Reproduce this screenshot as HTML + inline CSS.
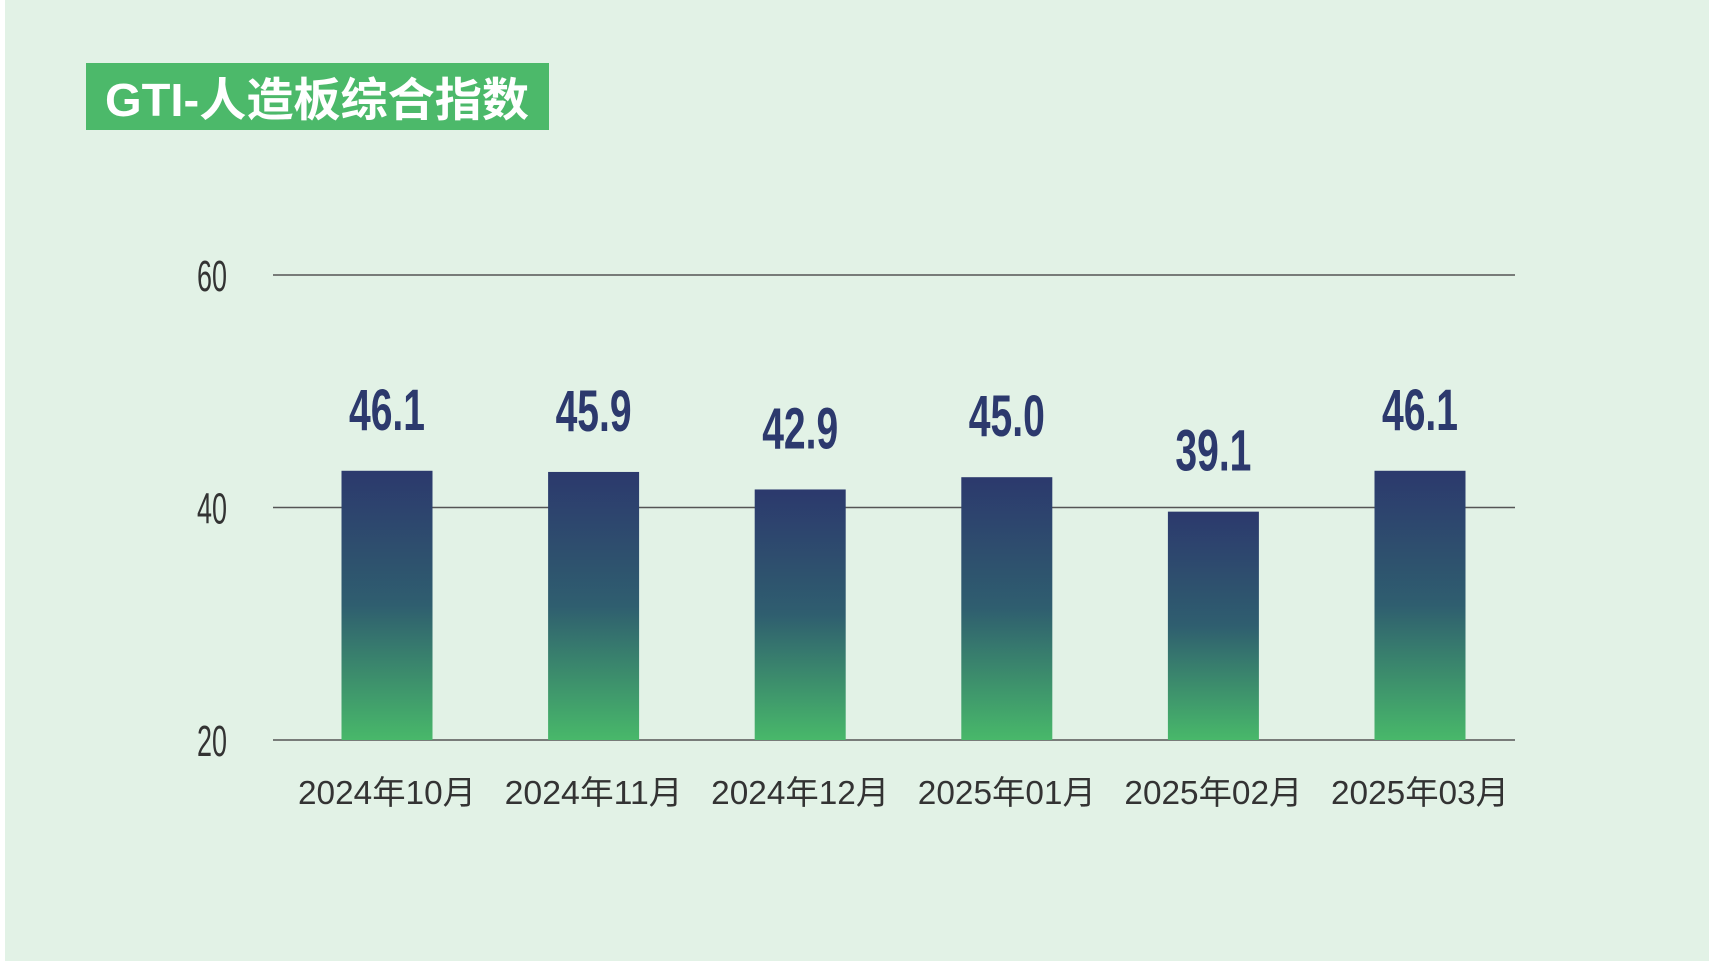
<!DOCTYPE html>
<html><head><meta charset="utf-8"><style>
html,body{margin:0;padding:0;background:#e2f2e6;}
svg{display:block;}
text{font-family:"Liberation Sans","Noto Sans CJK SC",sans-serif;}
</style></head><body>
<svg id="chart" width="1709" height="961" viewBox="0 0 1709 961">
<defs><linearGradient id="barGrad" x1="0" y1="0" x2="0" y2="1">
<stop offset="0" stop-color="#2c396d"/><stop offset="0.5" stop-color="#2f5e6f"/><stop offset="1" stop-color="#48b86a"/>
</linearGradient></defs>
<rect x="0" y="0" width="1709" height="961" fill="#e2f2e6"/>
<rect x="0" y="0" width="5" height="961" fill="#ffffff"/>
<rect x="86" y="63" width="463" height="67" fill="#4cb96a"/>
<text x="105" y="116" font-size="46" font-weight="bold" fill="#ffffff" textLength="424" lengthAdjust="spacingAndGlyphs">GTI-人造板综合指数</text>
<g id="grid"></g><g id="bars"></g>
</svg>
<script>
const categories = ["2024年10月","2024年11月","2024年12月","2025年01月","2025年02月","2025年03月"];
const values = [46.1,45.9,42.9,45.0,39.1,46.1];
const tickLabels = [20,40,60];
const NS="http://www.w3.org/2000/svg";
const baseY=740, plotLeft=273, plotRight=1515;
const centers0=387, step=(1420-387)/5;
function yTick(v){return baseY-(v-20)*(740-275)/40;}
function xPos(i){return centers0+i*step;}
function barH(v){return v*5.84;}
const grid=document.getElementById('grid'), bars=document.getElementById('bars');
tickLabels.forEach(t=>{
  const y=yTick(t);
  const l=document.createElementNS(NS,'line');
  l.setAttribute('x1',plotLeft);l.setAttribute('x2',plotRight);l.setAttribute('y1',y);l.setAttribute('y2',y);
  l.setAttribute('stroke','#555');l.setAttribute('stroke-width','1.5');
  
  
  grid.appendChild(l);
  const tx=document.createElementNS(NS,'text');
  tx.setAttribute('x',227);tx.setAttribute('y',y+16);tx.setAttribute('text-anchor','end');
  tx.setAttribute('font-size','44');tx.setAttribute('fill','#333');
  tx.setAttribute('textLength','30');tx.setAttribute('lengthAdjust','spacingAndGlyphs');
  tx.textContent=t;
  
  
  grid.appendChild(tx);
});
values.forEach((v,i)=>{
  const cx=xPos(i), h=barH(v), top=baseY-h;
  const r=document.createElementNS(NS,'rect');
  r.setAttribute('x',cx-45.5);r.setAttribute('y',top);r.setAttribute('width',91);r.setAttribute('height',h);
  r.setAttribute('fill','url(#barGrad)');
  
  
  bars.appendChild(r);
  const vl=document.createElementNS(NS,'text');
  vl.setAttribute('x',cx);vl.setAttribute('y',top-41);vl.setAttribute('text-anchor','middle');
  vl.setAttribute('font-size','58');vl.setAttribute('font-weight','bold');vl.setAttribute('fill','#2c396d');
  vl.setAttribute('textLength','76');vl.setAttribute('lengthAdjust','spacingAndGlyphs');
  vl.textContent=v.toFixed(1);
  
  
  bars.appendChild(vl);
  const xl=document.createElementNS(NS,'text');
  xl.setAttribute('x',cx);xl.setAttribute('y',804);xl.setAttribute('text-anchor','middle');
  xl.setAttribute('font-size','33');xl.setAttribute('fill','#333');
  xl.setAttribute('textLength','178');xl.setAttribute('lengthAdjust','spacingAndGlyphs');
  xl.textContent=categories[i];
  
  
  bars.appendChild(xl);
});
</script>
</body></html>
